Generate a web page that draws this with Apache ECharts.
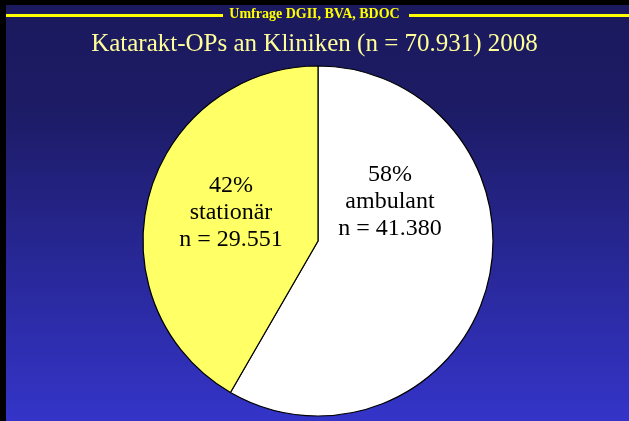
<!DOCTYPE html>
<html>
<head>
<meta charset="utf-8">
<script src="https://cdn.jsdelivr.net/npm/echarts@6/dist/echarts.min.js"></script>
<style>
  html, body { margin: 0; padding: 0; background: #000; }
  #chart { width: 629px; height: 421px; }
</style>
</head>
<body>
<div id="chart"></div>
<script>
// Daten
const categories = ['ambulant', 'stationär']
const counts = [41380, 29551]
const percents = ['58%', '42%']
const countLabels = ['n = 41.380', 'n = 29.551']

const chart = echarts.init(document.getElementById('chart'))

const option = {
  backgroundColor: new echarts.graphic.LinearGradient(0, 0, 0, 1, [
    { offset: 0, color: '#1b1a5e' },
    { offset: 0.25, color: '#1c1b64' },
    { offset: 1, color: '#3434c9' }
  ]),
  graphic: [
    // schwarzer Rand oben und links
    { type: 'rect', shape: { x: 0, y: 0, width: 629, height: 5 }, style: { fill: '#000' } },
    { type: 'rect', shape: { x: 0, y: 0, width: 6, height: 421 }, style: { fill: '#000' } },
    // Kopfzeile
    { type: 'rect', shape: { x: 6, y: 14, width: 217, height: 3 }, style: { fill: '#ffff00' } },
    { type: 'rect', shape: { x: 409, y: 14, width: 220, height: 3 }, style: { fill: '#ffff00' } },
    {
      type: 'text', left: 'center', top: 7,
      style: {
        text: 'Umfrage DGII, BVA, BDOC',
        fill: '#ffff00',
        font: 'bold 14px "Liberation Serif"'
      }
    },
    {
      type: 'text', left: 'center', top: 32,
      style: {
        text: 'Katarakt-OPs an Kliniken (n = 70.931) 2008',
        fill: '#ffff99',
        font: '25px "Liberation Serif"'
      }
    }
  ],
  series: [
    {
      type: 'pie',
      center: [318, 241],
      radius: 175,
      startAngle: 90,
      clockwise: true,
      silent: true,
      animation: false,
      data: categories.map((c, i) => ({
        name: c,
        value: counts[i],
        itemStyle: { color: i === 0 ? '#ffffff' : '#ffff66' }
      })),
      itemStyle: { borderColor: '#000', borderWidth: 1.2 },
      label: {
        show: true,
        position: 'inside',
        formatter: p => percents[p.dataIndex] + '\n' + categories[p.dataIndex] + '\n' + countLabels[p.dataIndex],
        color: '#000',
        fontFamily: 'Liberation Serif',
        fontSize: 24,
        lineHeight: 27,
        align: 'center'
      },
      labelLine: { show: false },
      labelLayout: p => {
        const pos = [[390, 202], [231, 213]][p.dataIndex]
        return { x: pos[0], y: pos[1], align: 'center', verticalAlign: 'middle' }
      }
    }
  ]
}

chart.setOption(option)
</script>
</body>
</html>
